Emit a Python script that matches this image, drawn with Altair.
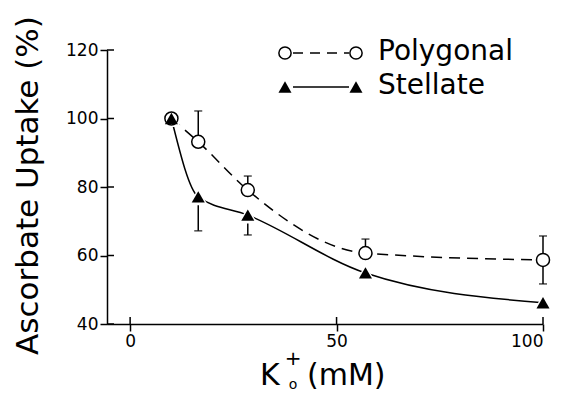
import altair as alt
import pandas as pd

# ---- data ----
k_mM = [10, 16.5, 28.5, 57, 100]
polygonal = [100, 93.2, 79.1, 60.7, 58.7]
stellate = [100, 77.1, 71.8, 54.9, 46.2]

poly_err_x = [16.5, 28.5, 57, 100, 100]
poly_err_mean = [93.2, 79.1, 60.7, 58.7, 58.7]
poly_err_end = [102.2, 83.2, 64.8, 65.7, 51.7]

stel_err_x = [16.5, 28.5]
stel_err_mean = [77.1, 71.8]
stel_err_end = [67.2, 66.0]

x_ticks = [0, 50, 100]
y_ticks = [40, 60, 80, 100, 120]

FONT = "DejaVu Sans"
W, H = 436, 274

poly_df = pd.DataFrame({"k": k_mM, "v": polygonal})
stel_df = pd.DataFrame({"k": k_mM, "v": stellate})
err_df = pd.DataFrame({
    "k": poly_err_x + stel_err_x,
    "m": poly_err_mean + stel_err_mean,
    "e": poly_err_end + stel_err_end,
})

xs = alt.Scale(domain=[-5.6, 100], nice=False, zero=False)
ys = alt.Scale(domain=[40, 120], nice=False, zero=False)

X = alt.X("k:Q", scale=xs, axis=alt.Axis(values=x_ticks, title=None))
Y = alt.Y("v:Q", scale=ys, axis=alt.Axis(
    values=y_ticks, title="Ascorbate Uptake (%)",
    titleX=-70, titleY=H / 2 - 2, titleAlign="center", titleBaseline="alphabetic",
    titleAngle=270))

poly_line = alt.Chart(poly_df).mark_line(
    interpolate="monotone", color="black", strokeWidth=1.5, strokeDash=[11, 7]
).encode(x=X, y=Y)
stel_line = alt.Chart(stel_df).mark_line(
    interpolate="monotone", color="black", strokeWidth=1.5
).encode(x=X, y=Y)

err_rule = alt.Chart(err_df).mark_rule(color="black", strokeWidth=1.5).encode(
    x=alt.X("k:Q", scale=xs), y=alt.Y("m:Q", scale=ys), y2="e:Q")
err_cap = alt.Chart(err_df).mark_tick(
    color="black", orient="horizontal", size=8, thickness=1.5
).encode(x=alt.X("k:Q", scale=xs), y=alt.Y("e:Q", scale=ys))

halo = alt.Chart(stel_df).mark_point(
    shape="triangle-up", filled=True, color="white", size=380, opacity=1
).encode(x=X, y=Y)
circles = alt.Chart(poly_df).mark_point(
    shape="circle", filled=False, fill="white", stroke="black", strokeWidth=1.5,
    size=170, opacity=1, fillOpacity=1
).encode(x=X, y=Y)
tris = alt.Chart(stel_df).mark_point(
    shape="triangle-up", filled=True, color="black", size=170, opacity=1
).encode(x=X, y=Y)

# inward halves of the crossing ticks
ytick_in = alt.Chart(pd.DataFrame({"t": y_ticks})).mark_rule(
    color="black", strokeWidth=1.5
).encode(y=alt.Y("t:Q", scale=ys), x=alt.value(0), x2=alt.value(7))
xtick_in = alt.Chart(pd.DataFrame({"t": x_ticks})).mark_rule(
    color="black", strokeWidth=1.5
).encode(x=alt.X("t:Q", scale=xs), y=alt.value(H), y2=alt.value(H - 7))

# legend
one = pd.DataFrame({"a": [0]})
leg_poly_line = alt.Chart(one).mark_rule(
    color="black", strokeWidth=1.5, strokeDash=[10, 7]
).encode(x=alt.value(186), x2=alt.value(242), y=alt.value(3))
leg_stel_line = alt.Chart(one).mark_rule(
    color="black", strokeWidth=1.5
).encode(x=alt.value(186), x2=alt.value(242), y=alt.value(37))
leg_c1 = alt.Chart(one).mark_point(
    shape="circle", filled=False, fill="white", stroke="black", strokeWidth=1.5,
    size=150, opacity=1, fillOpacity=1
).encode(x=alt.value(178), y=alt.value(3))
leg_c2 = alt.Chart(one).mark_point(
    shape="circle", filled=False, fill="white", stroke="black", strokeWidth=1.5,
    size=150, opacity=1, fillOpacity=1
).encode(x=alt.value(249), y=alt.value(3))
leg_t1 = alt.Chart(one).mark_point(
    shape="triangle-up", filled=True, color="black", size=170, opacity=1
).encode(x=alt.value(178), y=alt.value(37))
leg_t2 = alt.Chart(one).mark_point(
    shape="triangle-up", filled=True, color="black", size=170, opacity=1
).encode(x=alt.value(249), y=alt.value(37))
leg_txt = alt.Chart(pd.DataFrame({"lab": ["Polygonal", "Stellate"], "yy": [2, 36]})).mark_text(
    align="left", baseline="middle", font=FONT, fontSize=28, color="black"
).encode(text="lab:N", x=alt.value(271), y=alt.Y("yy:Q", scale=None))

# x-axis title  K+o (mM)
xt_K = alt.Chart(pd.DataFrame({"s": ["K"]})).mark_text(
    align="left", baseline="alphabetic", font=FONT, fontSize=30, color="black"
).encode(text="s:N", x=alt.value(153), y=alt.value(335))
xt_plus = alt.Chart(pd.DataFrame({"s": ["+"]})).mark_text(
    align="center", baseline="middle", font=FONT, fontSize=20, color="black"
).encode(text="s:N", x=alt.value(186), y=alt.value(309))
xt_o = alt.Chart(pd.DataFrame({"s": ["o"]})).mark_text(
    align="center", baseline="alphabetic", font=FONT, fontSize=14, color="black"
).encode(text="s:N", x=alt.value(186), y=alt.value(339))
xt_mM = alt.Chart(pd.DataFrame({"s": ["(mM)"]})).mark_text(
    align="left", baseline="alphabetic", font=FONT, fontSize=30, color="black"
).encode(text="s:N", x=alt.value(200), y=alt.value(335))

chart = alt.layer(
    poly_line, stel_line, err_rule, err_cap, halo, circles, tris,
    ytick_in, xtick_in,
    leg_poly_line, leg_stel_line, leg_c1, leg_c2, leg_t1, leg_t2, leg_txt,
    xt_K, xt_plus, xt_o, xt_mM,
).properties(
    width=W, height=H,
    autosize=alt.AutoSizeParams(type="none"),
    padding={"left": 99, "top": 42, "right": 15, "bottom": 69},
).configure_view(
    stroke=None
).configure_axis(
    grid=False, domainColor="black", domainWidth=1.5, tickColor="black",
    tickWidth=1.5, tickSize=7, labelFont=FONT, labelFontSize=17,
    labelColor="black", labelPadding=2, titleFont=FONT, titleFontSize=31,
    titleFontWeight="normal", titleColor="black"
)

chart.save("out.html", embed_options={"renderer": "svg", "actions": False})
